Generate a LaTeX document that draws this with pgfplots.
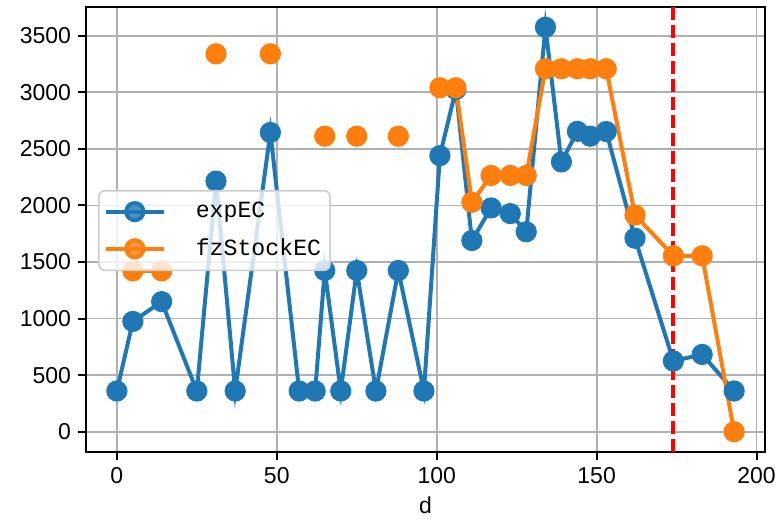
\documentclass[border=0pt]{standalone}
\usepackage{fontspec}
\setmainfont{Liberation Sans}
\newfontfamily\legfont{Liberation Mono}
\usepackage{pgfplots}
\pgfplotsset{compat=1.18}
\definecolor{mblue}{HTML}{1F77B4}
\definecolor{morange}{HTML}{FF7F0E}
\definecolor{mgrid}{HTML}{B0B0B0}
\definecolor{mleg}{HTML}{CCCCCC}
\begin{document}
\begin{tikzpicture}
\begin{axis}[
  name=ax, at={(0,0)}, anchor=south west,
  scale only axis, width=339.5pt, height=222.5pt,
  xmin=-9.65, xmax=202.65, ymin=-179, ymax=3754,
  xtick={0,50,100,150,200}, ytick={0,500,1000,1500,2000,2500,3000,3500},
  grid=major, major grid style={color=mgrid, line width=0.9pt},
  axis line style={line width=1pt},
  tick align=outside, tick pos=left, major tick length=4pt,
  every tick/.style={black, line width=1pt},
  /pgf/number format/assume math mode=true,
  /pgf/number format/1000 sep={},
  scaled ticks=false,
  tick label style={font=\fontsize{11.5}{13}\selectfont},
  xlabel={d}, label style={font=\fontsize{11.5}{13}\selectfont},
  unbounded coords=jump,
  legend cell align=left,
  legend image code/.code={\draw[mark repeat=2,mark phase=2,#1] plot coordinates {(0pt,0pt) (14.5pt,0pt) (29pt,0pt)};},
  legend style={at={(rel axis cs:0.0177,0.5888)}, anchor=north west,
    draw=mleg, line width=0.8pt, rounded corners=3pt, fill=white, fill opacity=0.8, text opacity=1,
    font=\legfont\fontsize{11.6}{13}\selectfont, row sep=5pt, inner xsep=2.5pt, inner ysep=3.8pt},
]
\addplot[color=mblue, line width=2pt, mark=*, mark size=4.3pt, mark options={draw=none, fill=mblue}] coordinates {
(0,360) (5,975) (14,1150) (25,360) (31,2215) (37,360) (48,2645) (57,360) (62,360) (65,1425)
(70,360) (75,1425) (81,360) (88,1425) (96,360) (101,2440) (106,3025) (111,1690) (117,1978) (123,1928)
(128,1767) (134,3575) (139,2385) (144,2655) (148,2612) (153,2653) (162,1710) (174,625) (183,683) (193,360)
};
\addlegendentry{\hspace{13pt}expEC}
\addplot[color=morange, line width=2pt, mark=*, mark size=4.3pt, mark options={draw=none, fill=morange}] coordinates {
(0,nan) (5,1422) (14,1422) (25,nan) (31,3340) (37,nan) (48,3340) (57,nan) (62,nan) (65,2612)
(70,nan) (75,2612) (81,nan) (88,2612) (96,nan) (101,3040) (106,3040) (111,2028) (117,2265) (123,2265)
(128,2265) (134,3208) (139,3208) (144,3208) (148,3208) (153,3208) (162,1915) (174,1555) (183,1555) (193,0)
};
\addlegendentry{\hspace{13pt}fzStockEC}
\addplot[forget plot, color=red, line width=2pt, dash pattern=on 6.5pt off 2.5pt] coordinates {(174,-179) (174,3754)};
\end{axis}
\pgfresetboundingbox
\path (-43pt,-35pt) rectangle (347.5pt,226pt);
\end{tikzpicture}
\end{document}
